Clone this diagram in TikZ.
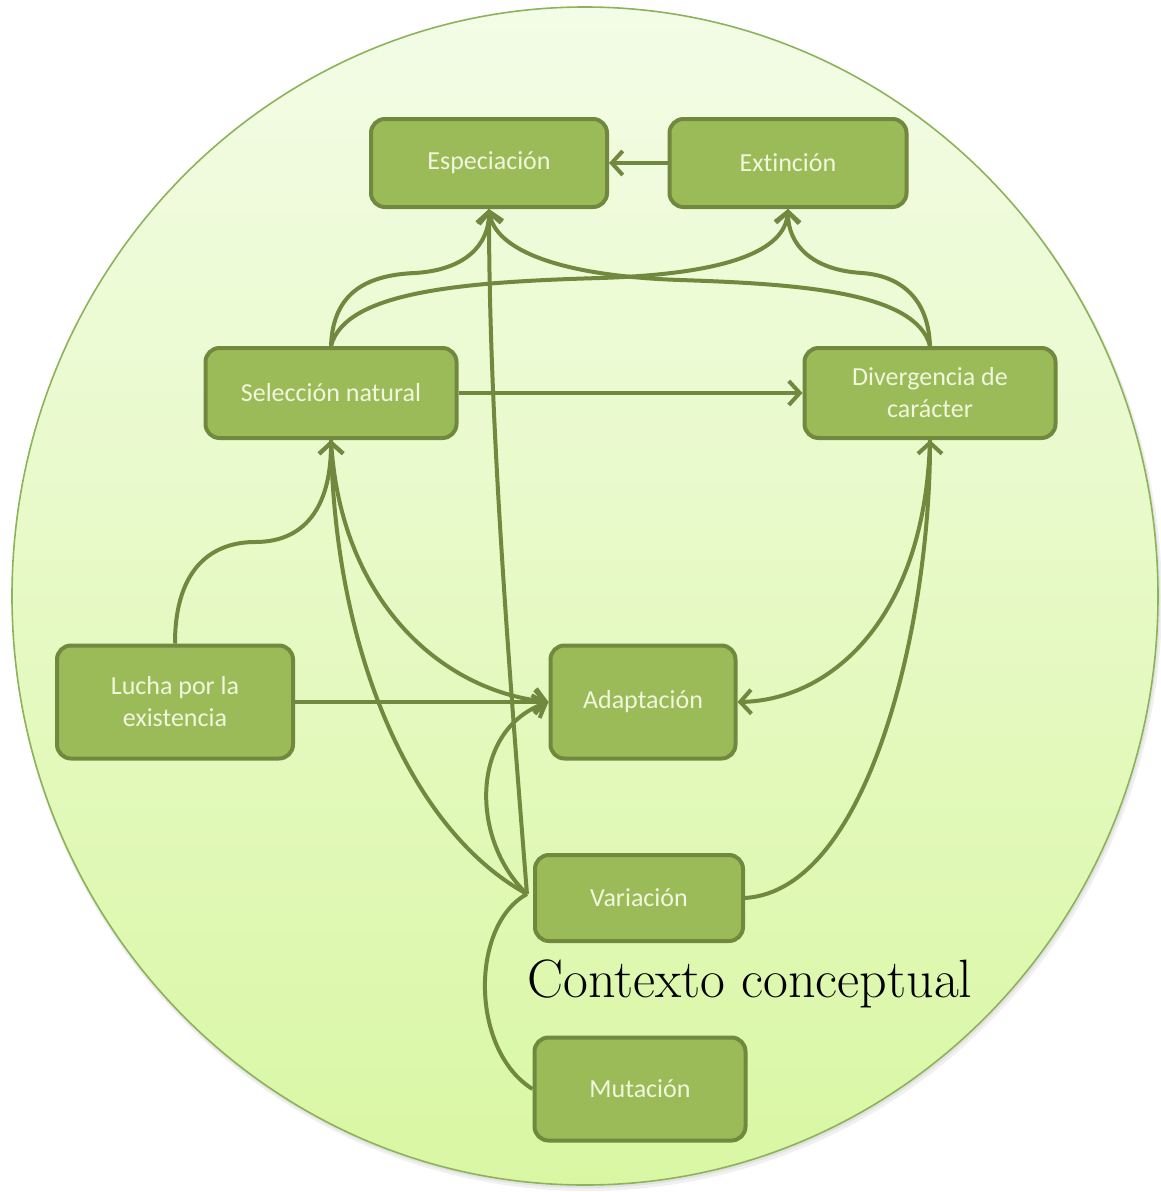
\documentclass[tikz,border=0pt]{standalone}
\usepackage{fontspec}
\newfontfamily\boxfont[Ligatures=NoCommon]{Carlito}
\usetikzlibrary{arrows.meta}
\definecolor{boxfill}{HTML}{9BBB59}
\definecolor{boxline}{HTML}{71893F}
\definecolor{boxtext}{HTML}{F1F6DD}
\definecolor{bgtop}{HTML}{F3FCE6}
\definecolor{bgbot}{HTML}{D9F7A3}
\definecolor{rim}{HTML}{8DB35A}
\begin{document}
\begin{tikzpicture}[x=1pt,y=-1pt,
  concept/.style={draw=boxline, fill=boxfill, line width=4pt, rounded corners=14pt,
    text=boxtext, font=\boxfont\fontsize{26}{32}\selectfont, align=center, inner sep=0pt},
  link/.style={draw=boxline, line width=4pt},
  arr/.style={-{Straight Barb[length=11pt,width=24pt,line width=4pt]}}
]
\useasboundingbox (0,0) rectangle (1161,1192);
% background disc
\fill[black,opacity=0.06] (587,600) ellipse [x radius=575pt, y radius=591pt];
\fill[black,opacity=0.06] (586,598) ellipse [x radius=574pt, y radius=590pt];
\shade[top color=bgtop, bottom color=bgbot] (585,596) ellipse [x radius=573pt, y radius=589pt];
\draw[rim, line width=1.6pt] (585,596) ellipse [x radius=573pt, y radius=589pt];

% concepts
\node[concept, minimum width=236pt, minimum height=88pt] (esp) at (489,163) {Especiación};
\node[concept, minimum width=237pt, minimum height=88pt] (ext) at (788,163) {Extinción};
\node[concept, minimum width=251pt, minimum height=90pt] (sel) at (331,393) {Selección natural};
\node[concept, minimum width=251pt, minimum height=90pt] (div) at (930,393) {Divergencia de\\carácter};
\node[concept, minimum width=236pt, minimum height=113pt] (lucha) at (175,702) {Lucha por la\\existencia};
\node[concept, minimum width=185pt, minimum height=113pt] (adapt) at (643,702) {Adaptación};
\node[concept, minimum width=208pt, minimum height=86pt] (var) at (639,898) {Variación};
\node[concept, minimum width=211pt, minimum height=103pt] (mut) at (640,1089) {Mutación};

\node[anchor=base west, inner sep=0pt, font=\fontsize{54}{60}\selectfont] (ctx) at (527,997) {Contexto conceptual};

\coordinate (vhub) at ([xshift=-6pt,yshift=4pt]var.west);

% connectors
\draw[link,arr] (ext.west) -- (esp.east);
\draw[link,arr] (sel.north) .. controls (333,290) and (370,275) .. (415,273) .. controls (465,270) and (489,245) .. (esp.south);
\draw[link,arr] (div.north) .. controls (928,290) and (891,275) .. (862,273) .. controls (812,270) and (788,245) .. (ext.south);
\draw[link,arr] (sel.north) .. controls (345,292) and (460,282) .. (600,278) .. controls (730,274) and (785,250) .. (ext.south);
\draw[link,arr] (div.north) .. controls (916,292) and (800,284) .. (680,280) .. controls (560,276) and (495,250) .. (esp.south);
\draw[link,arr] (sel.east) -- (div.west);
\draw[link,arr] (lucha.north) .. controls (175,565) and (215,542) .. (255,542) .. controls (310,542) and (331,500) .. (sel.south);
\draw[link,arr] (lucha.east) -- (adapt.west);
\draw[link,arr] (sel.south) .. controls (340,600) and (440,690) .. (adapt.west);
\draw[link,arr] (vhub) .. controls (410,830) and (335,650) .. (sel.south);
\draw[link,arr] (vhub) .. controls (505,620) and (489,400) .. (esp.south);
\draw[link,arr] (vhub) .. controls (470,840) and (470,730) .. (adapt.west);
\draw[link] (mut.west) .. controls (470,1050) and (470,925) .. (vhub);
\draw[link,arr] (var.east) .. controls (870,890) and (930,620) .. (div.south);
\draw[link,arr] (div.south) .. controls (925,620) and (830,700) .. (adapt.east);
\end{tikzpicture}
\end{document}
